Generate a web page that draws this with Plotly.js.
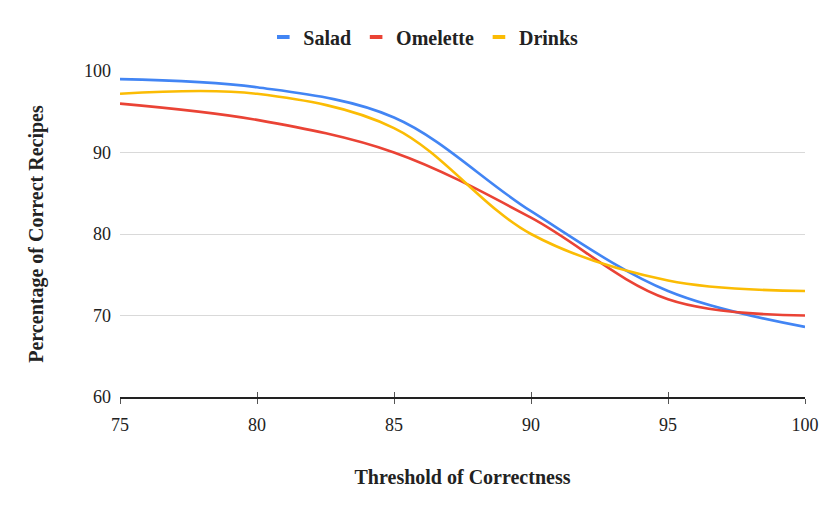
<!DOCTYPE html>
<html><head><meta charset="utf-8">
<script src="https://cdn.plot.ly/plotly-3.0.1.min.js"></script>
<style>html,body{margin:0;padding:0;background:#fff}#c{width:830px;height:514px}</style>
</head><body><div id="c"></div>
<script>
const thresholds = [75, 80, 85, 90, 95, 100];
const salad = [99.0, 98.0, 94.3, 82.8, 73.0, 68.6];
const omelette = [96.0, 94.0, 90.0, 82.0, 72.0, 70.0];
const drinks = [97.2, 97.2, 93.0, 80.0, 74.3, 73.0];
const yTicks = [60, 70, 80, 90, 100];
const seriesNames = ['Salad', 'Omelette', 'Drinks'];
const colors = ['#4285F4', '#EA4335', '#FBBC04'];
const serif = 'Liberation Serif, Times New Roman, serif';
const vals = [salad, omelette, drinks];
const traces = vals.map((v, i) => ({
  x: thresholds, y: v, name: seriesNames[i], type: 'scatter', mode: 'lines', showlegend: false,
  line: {color: colors[i], width: 2.6, shape: 'spline', smoothing: 1}
}));
const legendTraces = seriesNames.map((n, i) => ({
  x: [null], y: [null], name: n, type: 'scatter', mode: 'markers', xaxis: 'x2',
  marker: {symbol: 'line-ew', size: 9, color: colors[i], line: {color: colors[i], width: 4}}
}));
const layout = {
  width: 830, height: 514,
  margin: {l: 120, r: 25, t: 71, b: 117, autoexpand: false},
  paper_bgcolor: '#fff', plot_bgcolor: '#fff',
  font: {family: serif, size: 18, color: '#222'},
  showlegend: true,
  legend: {orientation: 'h', x: 0.51, xanchor: 'center', xref: 'container', y: 0.928, yanchor: 'middle', yref: 'container',
    font: {family: serif, size: 20, color: '#222', weight: 'bold'}, itemwidth: 30, tracegroupgap: 0},
  xaxis: {range: [75, 100], tickvals: thresholds, showgrid: false, zeroline: false,
    showline: true, linecolor: '#222', linewidth: 1.5, ticks: 'outside', ticklen: 5, tickwidth: 1, tickcolor: '#555',
    tickfont: {family: serif, size: 18, color: '#222'}, ticklabelstandoff: 6,
    title: {text: 'Threshold of Correctness', font: {family: serif, size: 20, color: '#222', weight: 'bold'}, standoff: 36}},
  xaxis2: {range: [75, 100], tickvals: thresholds, overlaying: 'x', anchor: 'y', side: 'bottom', showgrid: false, zeroline: false,
    showline: false, ticks: 'inside', ticklen: 5, tickwidth: 1, tickcolor: '#555', showticklabels: false},
  yaxis: {range: [60, 100], tickvals: yTicks, showgrid: true, gridcolor: '#d9d9d9', gridwidth: 1,
    zeroline: false, showline: false, ticks: '', tickfont: {family: serif, size: 18, color: '#222'}, ticklabelstandoff: 8,
    title: {text: 'Percentage of Correct Recipes', font: {family: serif, size: 20, color: '#222', weight: 'bold'}, standoff: 35}}
};
Plotly.newPlot('c', traces.concat(legendTraces), layout, {displayModeBar: false, staticPlot: true});
</script></body></html>
